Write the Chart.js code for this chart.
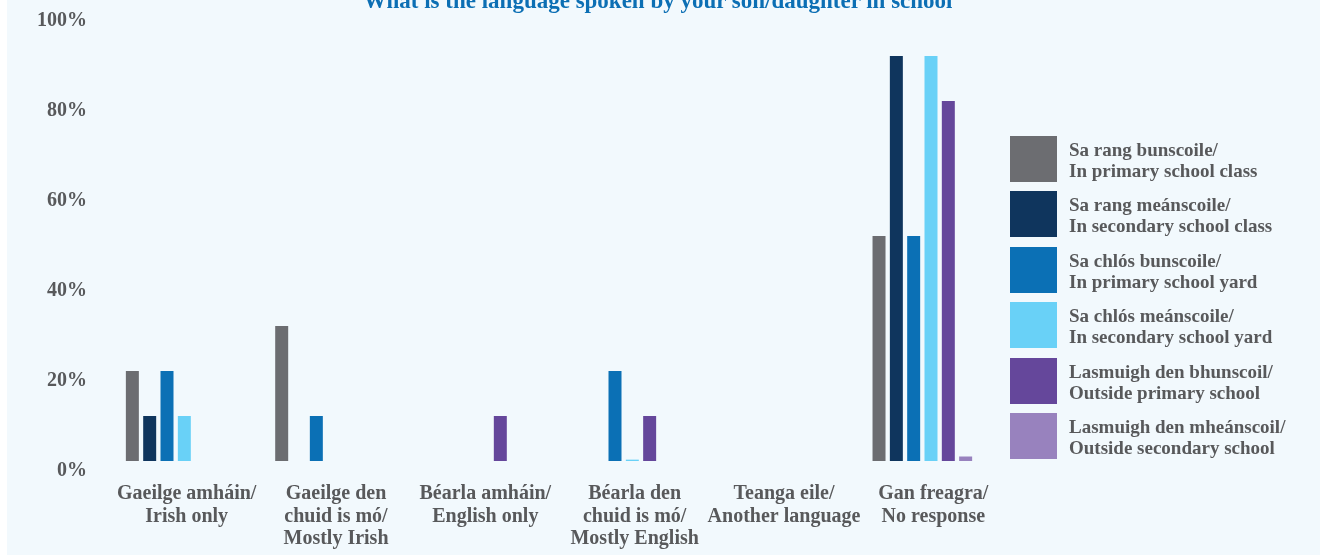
<!DOCTYPE html>
<html>
<head>
<meta charset="utf-8">
<script src="https://cdn.jsdelivr.net/npm/chart.js@4.4.1/dist/chart.umd.min.js"></script>
<style>
    html, body { margin: 0; padding: 0; background: #ffffff; }
    #wrap {
        position: relative; width: 1313px; height: 555px; margin-left: 7px;
        background: #f2f9fd; overflow: hidden;
        font-family: "Liberation Serif", "DejaVu Serif", serif;
    }
    #wrap canvas { position: absolute; left: -7px; top: 0; }
    #title {
        position: absolute; left: -7px; width: 1316px; top: -11px;
        text-align: center; font-weight: bold; font-size: 23px; line-height: 23px;
        color: #0c6fb4;
    }
    #legend { position: absolute; left: 1003px; top: 136px; }
    .item { position: relative; height: 55.4px; }
    .box { position: absolute; left: 0; top: 0; width: 47px; height: 46px; }
    .txt {
        position: absolute; left: 59px; top: 3px; white-space: nowrap;
        font-weight: bold; font-size: 19px; line-height: 21px; color: #58595b;
    }
</style>
</head>
<body>
<div id="wrap">
    <canvas id="chart" width="1320" height="555"></canvas>
    <div id="title">What is the language spoken by your son/daughter in school</div>
    <div id="legend"></div>
</div>
<script>
// categories (x axis)
const categories = [
    ['Gaeilge amháin/', 'Irish only'],
    ['Gaeilge den', 'chuid is mó/', 'Mostly Irish'],
    ['Béarla amháin/', 'English only'],
    ['Béarla den', 'chuid is mó/', 'Mostly English'],
    ['Teanga eile/', 'Another language'],
    ['Gan freagra/', 'No response']
];

// series names
const seriesNames = [
    ['Sa rang bunscoile/', 'In primary school class'],
    ['Sa rang meánscoile/', 'In secondary school class'],
    ['Sa chlós bunscoile/', 'In primary school yard'],
    ['Sa chlós meánscoile/', 'In secondary school yard'],
    ['Lasmuigh den bhunscoil/', 'Outside primary school'],
    ['Lasmuigh den mheánscoil/', 'Outside secondary school']
];

// values in %
const primaryClass   = [20, 30, 0, 0, 0, 50];
const secondaryClass = [10, 0, 0, 0, 0, 90];
const primaryYard    = [20, 10, 0, 20, 0, 50];
const secondaryYard  = [10, 0, 0, 0.3, 0, 90];
const outsidePrimary = [0, 0, 10, 10, 0, 80];
const outsideSecond  = [0, 0, 0, 0, 0, 1];

const yTicks = [0, 20, 40, 60, 80, 100];

const colors = ['#6c6d71', '#0f355d', '#0b70b5', '#69d1f7', '#65479b', '#9882be'];
const values = [primaryClass, secondaryClass, primaryYard, secondaryYard, outsidePrimary, outsideSecond];

const textGray = '#58595b';

let data = {
    labels: categories,
    datasets: []
};

values.forEach(function(v, i){
    data.datasets.push({
        label: seriesNames[i].join(' '),
        data: v,
        backgroundColor: colors[i],
        borderWidth: 0,
        barPercentage: 0.75,
        categoryPercentage: 0.696
    });
});

// html legend
let legend = document.getElementById('legend');
seriesNames.forEach(function(n, i){
    let item = document.createElement('div');
    item.className = 'item';
    let box = document.createElement('div');
    box.className = 'box';
    box.style.background = colors[i];
    let txt = document.createElement('div');
    txt.className = 'txt';
    txt.innerHTML = n[0] + '<br>' + n[1];
    item.appendChild(box);
    item.appendChild(txt);
    legend.appendChild(item);
});

const config = {
    type: 'bar',
    data: data,
    options: {
        responsive: false,
        animation: false,
        layout: {
            padding: { top: 11, right: 323, left: 0, bottom: 0 }
        },
        plugins: {
            legend: { display: false },
            title: { display: false },
            tooltip: { enabled: false }
        },
        scales: {
            x: {
                grid: { display: false, drawTicks: false },
                border: { display: false },
                ticks: {
                    color: textGray,
                    padding: 22,
                    labelOffset: 11,
                    maxRotation: 0,
                    autoSkip: false,
                    font: { family: '"Liberation Serif", serif', size: 20, weight: 'bold', lineHeight: 1.12 }
                },
                afterFit: function(scale){ scale.height = 94; scale.paddingLeft = 0; scale.paddingRight = 0; }
            },
            y: {
                min: 0,
                max: 100,
                grid: { display: false, drawTicks: false },
                border: { display: false },
                afterBuildTicks: function(scale){
                    scale.ticks = yTicks.map(function(t){ return { value: t }; });
                },
                ticks: {
                    color: textGray,
                    padding: 14,
                    labelOffset: 10,
                    font: { family: '"Liberation Serif", serif', size: 20, weight: 'bold' },
                    callback: function(v){ return v + '%'; }
                },
                afterFit: function(scale){ scale.width = 101; scale.paddingTop = 0; scale.paddingBottom = 0; }
            }
        }
    }
};

let myChart = new Chart(document.getElementById('chart').getContext('2d'), config);
</script>
</body>
</html>
